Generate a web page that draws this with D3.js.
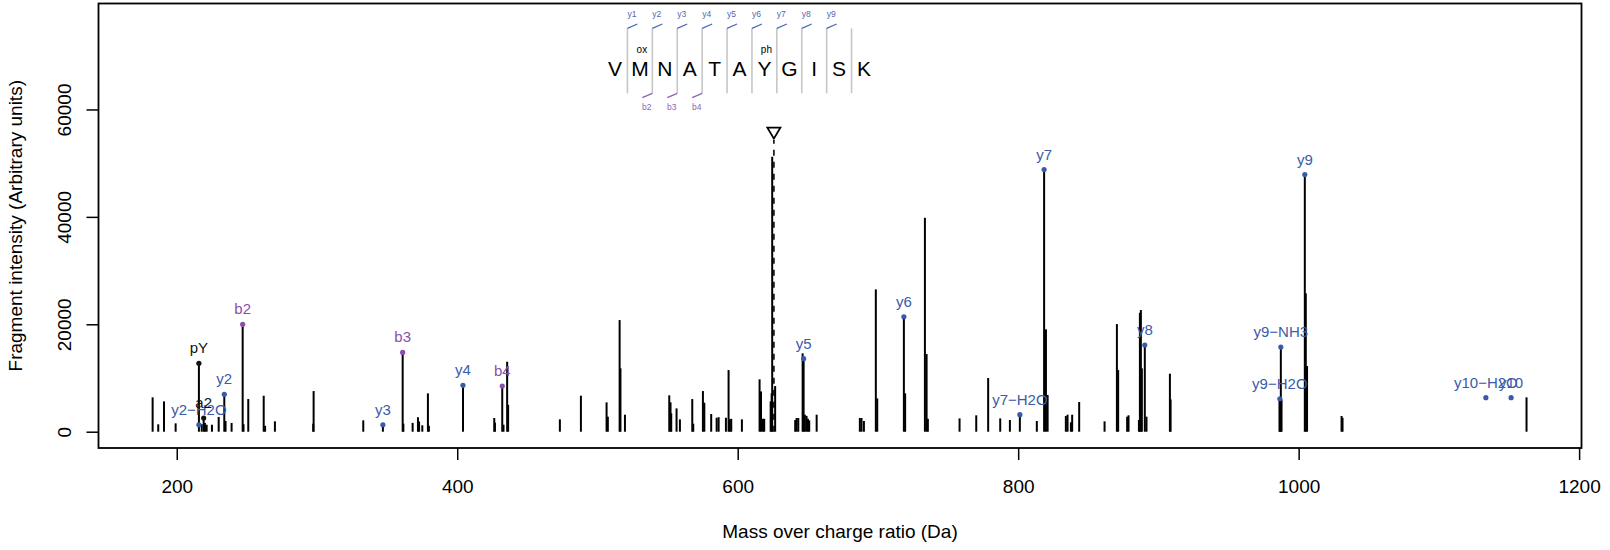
<!DOCTYPE html>
<html>
<head>
<meta charset="utf-8">
<script src="https://cdn.jsdelivr.net/npm/d3@7"></script>
<style>
  body { margin: 0; background: #fff; }
  svg { display: block; font-family: "Liberation Sans", Arial, Helvetica, sans-serif; }
</style>
</head>
<body>
<div id="chart"></div>
<script>
// ---- data ----
const peakMz = [
  182.8, 186.8, 190.9, 199.2, 215.8, 217.8, 219.2, 220.1, 221.3, 225.1, 229.9, 233.9, 234.8, 239.1,
  247.0, 247.6, 251.0, 262.0, 263.0, 270.0, 297.3, 297.6, 333.0, 347.0, 361.1, 361.6, 368.2, 372.0,
  372.8, 375.1, 379.1, 379.8, 404.1, 426.4, 426.9, 432.1, 433.0, 435.6, 436.3,
  473.2, 488.2, 506.5, 507.4, 515.8, 516.4, 519.6, 551.2, 552.1, 552.6, 556.4, 558.8, 567.6, 568.3,
  575.2, 576.2, 581.1, 585.0, 586.4, 591.6, 593.5, 594.4, 595.4, 603.0, 615.6, 616.6, 618.0, 618.9,
  623.5, 624.2, 624.6, 626.7, 641.0, 642.0, 643.2, 646.3, 647.0, 647.9, 649.1, 650.1, 651.0, 656.3,
  687.1, 688.3, 690.0, 698.5, 699.5, 718.5, 719.4,
  733.5, 734.7, 735.6, 758.2, 770.1, 778.6, 787.2, 794.1, 801.2, 813.3, 818.5, 819.8, 821.0,
  834.0, 835.2, 837.6, 838.5, 843.5, 861.6, 870.4, 871.3, 877.7, 878.7, 886.1, 886.8, 887.5, 888.2,
  890.3, 891.5, 908.2, 908.7, 986.4, 986.6, 987.3, 987.8, 1004.4, 1005.1, 1006.0, 1030.6, 1031.3, 1162.5
];
const peakInt = [
  6400, 1380, 5650, 1560, 12730, 1400, 2550, 1640, 1300, 1300, 2750, 6960, 2000, 1640,
  19990, 1400, 6085, 6700, 1100, 1930, 1500, 7570, 2120, 1300, 14770, 1500, 1640, 2700,
  1900, 1200, 7140, 1100, 8630, 2550, 1700, 8500, 1300, 13030, 5000,
  2300, 6700, 5460, 2800, 20790, 11800, 3170, 6770, 5470, 3420, 4340, 2300, 6080, 1500,
  7570, 5400, 3290, 2600, 2700, 2600, 11480, 2300, 2400, 2300, 9750, 7500, 2400, 2400,
  5650, 7140, 51200, 8500, 2170, 2550, 2550, 14590, 13590, 3170, 2950, 2400, 2100, 3170,
  2550, 2550, 2000, 26500, 6200, 21400, 7140,
  39830, 14460, 2400, 2480, 3050, 10000, 2480, 2180, 3170, 2000, 48800, 19060, 6830,
  2920, 3170, 1750, 3170, 5530, 1930, 20040, 11480, 2800, 3050, 2180, 22150, 22650, 11800,
  16140, 2800, 10800, 6000, 6140, 6140, 15760, 6000, 47870, 25760, 12230, 2920, 2600, 6400
];

const ionLabels = ["pY", "y2\u2212H2O", "a2", "y2", "b2", "y3", "b3", "y4", "b4", "y5", "y6",
  "y7\u2212H2O", "y7", "y8", "y9\u2212H2O", "y9\u2212NH3", "y9", "y10\u2212H2O", "y10"];
const ionMz = [215.8, 215.8, 219.2, 233.9, 247.0, 347.0, 361.1, 404.1, 432.1, 647.0, 718.5,
  801.2, 818.5, 890.3, 986.6, 987.3, 1004.4, 1133.5, 1151.5];
const ionInt = [12730, 1300, 2550, 6960, 19990, 1300, 14770, 8630, 8500, 13590, 21400,
  3170, 48800, 16140, 6140, 15760, 47870, 6330, 6330];
const ionType = ["other", "y", "other", "y", "b", "y", "b", "y", "b", "y", "y",
  "y", "y", "y", "y", "y", "y", "y", "y"];

const residues = ["V", "M", "N", "A", "T", "A", "Y", "G", "I", "S", "K"];
const modLabels = ["", "ox", "", "", "", "", "ph", "", "", "", ""];
const yFragLabels = ["y1", "y2", "y3", "y4", "y5", "y6", "y7", "y8", "y9"];
const bFragLabels = ["b2", "b3", "b4"];

const precursorMz = 625.8;
const precursorMarkInt = 55600;
const xTickValues = [200, 400, 600, 800, 1000, 1200];
const yTickValues = [0, 20000, 40000, 60000];

// ---- layout ----
const W = 1610, H = 550;
const margin = { top: 3.5, right: 28.5, bottom: 102, left: 98.5 },
      width = W - margin.left - margin.right,
      height = H - margin.top - margin.bottom;

const colors = { y: "#3b5ba9", b: "#8a4fa8", other: "#111" };

const svg = d3.select("#chart")
  .append("svg")
  .attr("width", W)
  .attr("height", H);

const g = svg.append("g")
  .attr("transform", `translate(${margin.left}, ${margin.top})`);

const x = d3.scaleLinear().domain([144.2, 1201.7]).range([0, width]);
const y = d3.scaleLinear().domain([-3033, 79728]).range([height, 0]);

// axes
const xAxis = g.append("g")
  .attr("transform", `translate(0, ${height})`)
  .call(d3.axisBottom(x).tickValues(xTickValues).tickSize(12).tickPadding(20).tickFormat(d3.format("d")));
xAxis.select(".domain").remove();
xAxis.selectAll("line").attr("stroke-width", 1.5);
xAxis.selectAll("text").attr("font-size", 19).attr("fill", "#000")
  .attr("font-family", "Liberation Sans, Arial, sans-serif");

const yAxis = g.append("g")
  .call(d3.axisLeft(y).tickValues(yTickValues).tickSize(12).tickFormat(d3.format("d")));
yAxis.select(".domain").remove();
yAxis.selectAll("line").attr("stroke-width", 1.5);
yAxis.selectAll("text")
  .attr("font-size", 19).attr("fill", "#000")
  .attr("font-family", "Liberation Sans, Arial, sans-serif")
  .attr("text-anchor", "middle")
  .attr("dy", null)
  .attr("x", null)
  .attr("transform", "translate(-28, 0) rotate(-90)")
  .attr("y", 0);

// box
g.append("rect")
  .attr("width", width)
  .attr("height", height)
  .attr("fill", "none")
  .attr("stroke", "#000")
  .attr("stroke-width", 1.8);

// axis titles
svg.append("text")
  .attr("x", margin.left + width / 2)
  .attr("y", 538)
  .attr("text-anchor", "middle")
  .attr("font-size", 19)
  .text("Mass over charge ratio (Da)");

svg.append("text")
  .attr("transform", `translate(22, ${margin.top + height / 2}) rotate(-90)`)
  .attr("text-anchor", "middle")
  .attr("font-size", 19)
  .text("Fragment intensity (Arbitrary units)");

// precursor marker
const px = x(precursorMz);
g.append("line")
  .attr("x1", px).attr("x2", px)
  .attr("y1", y(0)).attr("y2", y(precursorMarkInt) + 7)
  .attr("stroke", "#222")
  .attr("stroke-width", 1.8)
  .attr("stroke-dasharray", "6,6");

// peaks
const peaks = peakMz.map((mz, i) => ({ mz, int: peakInt[i] }));
g.selectAll("line.peak")
  .data(peaks)
  .join("line")
  .attr("class", "peak")
  .attr("x1", d => x(d.mz)).attr("x2", d => x(d.mz))
  .attr("y1", y(0)).attr("y2", d => y(d.int))
  .attr("stroke", "#000")
  .attr("stroke-width", 2);

const pyMark = y(precursorMarkInt);
g.append("path")
  .attr("d", `M${px - 6.5},${pyMark - 5.5} L${px + 6.5},${pyMark - 5.5} L${px},${pyMark + 5.5} Z`)
  .attr("fill", "none")
  .attr("stroke", "#000")
  .attr("stroke-width", 1.8);

// matched ions
const ions = ionLabels.map((label, i) => ({ label, mz: ionMz[i], int: ionInt[i], type: ionType[i] }));
g.selectAll("circle.ion")
  .data(ions)
  .join("circle")
  .attr("class", "ion")
  .attr("cx", d => x(d.mz))
  .attr("cy", d => y(d.int))
  .attr("r", 2.6)
  .attr("fill", d => colors[d.type]);

g.selectAll("text.ion")
  .data(ions)
  .join("text")
  .attr("class", "ion")
  .attr("x", d => x(d.mz))
  .attr("y", d => y(d.int) - 10)
  .attr("text-anchor", "middle")
  .attr("font-size", 15)
  .attr("fill", d => colors[d.type])
  .text(d => d.label);

// ---- peptide sequence annotation ----
const seq = svg.append("g");
const rx = d3.scalePoint().domain(d3.range(residues.length)).range([615, 864]);
const step = rx.step();
const sepX = i => rx(i) + step / 2;
const sepTop = 28.3, sepBottom = 93.3;

seq.selectAll("line.sep")
  .data(d3.range(residues.length - 1))
  .join("line")
  .attr("class", "sep")
  .attr("x1", sepX).attr("x2", sepX)
  .attr("y1", sepTop).attr("y2", sepBottom)
  .attr("stroke", "#c6c6c6")
  .attr("stroke-width", 1.6);

seq.selectAll("text.res")
  .data(residues)
  .join("text")
  .attr("class", "res")
  .attr("x", (d, i) => rx(i))
  .attr("y", 76)
  .attr("text-anchor", "middle")
  .attr("font-size", 21)
  .text(d => d);

seq.selectAll("text.mod")
  .data(modLabels)
  .join("text")
  .attr("class", "mod")
  .attr("x", (d, i) => rx(i) + 2)
  .attr("y", 53)
  .attr("text-anchor", "middle")
  .attr("font-size", 10)
  .text(d => d);

// y fragment ticks on top
seq.selectAll("line.yfrag")
  .data(yFragLabels)
  .join("line")
  .attr("class", "yfrag")
  .attr("x1", (d, i) => sepX(i)).attr("x2", (d, i) => sepX(i) + 10)
  .attr("y1", sepTop).attr("y2", sepTop - 4.3)
  .attr("stroke", "#4d68b4")
  .attr("stroke-width", 1.3);

seq.selectAll("text.yfrag")
  .data(yFragLabels)
  .join("text")
  .attr("class", "yfrag")
  .attr("x", (d, i) => sepX(i) + 4.5)
  .attr("y", 17)
  .attr("text-anchor", "middle")
  .attr("font-size", 8.5)
  .attr("fill", "#4d68b4")
  .text(d => d);

// b fragment ticks at the bottom
seq.selectAll("line.bfrag")
  .data(bFragLabels)
  .join("line")
  .attr("class", "bfrag")
  .attr("x1", (d, i) => sepX(i + 1)).attr("x2", (d, i) => sepX(i + 1) - 10)
  .attr("y1", sepBottom).attr("y2", sepBottom + 4.3)
  .attr("stroke", "#9160b4")
  .attr("stroke-width", 1.3);

seq.selectAll("text.bfrag")
  .data(bFragLabels)
  .join("text")
  .attr("class", "bfrag")
  .attr("x", (d, i) => sepX(i + 1) - 5.5)
  .attr("y", 110)
  .attr("text-anchor", "middle")
  .attr("font-size", 8.5)
  .attr("fill", "#9160b4")
  .text(d => d);
</script>
</body>
</html>
